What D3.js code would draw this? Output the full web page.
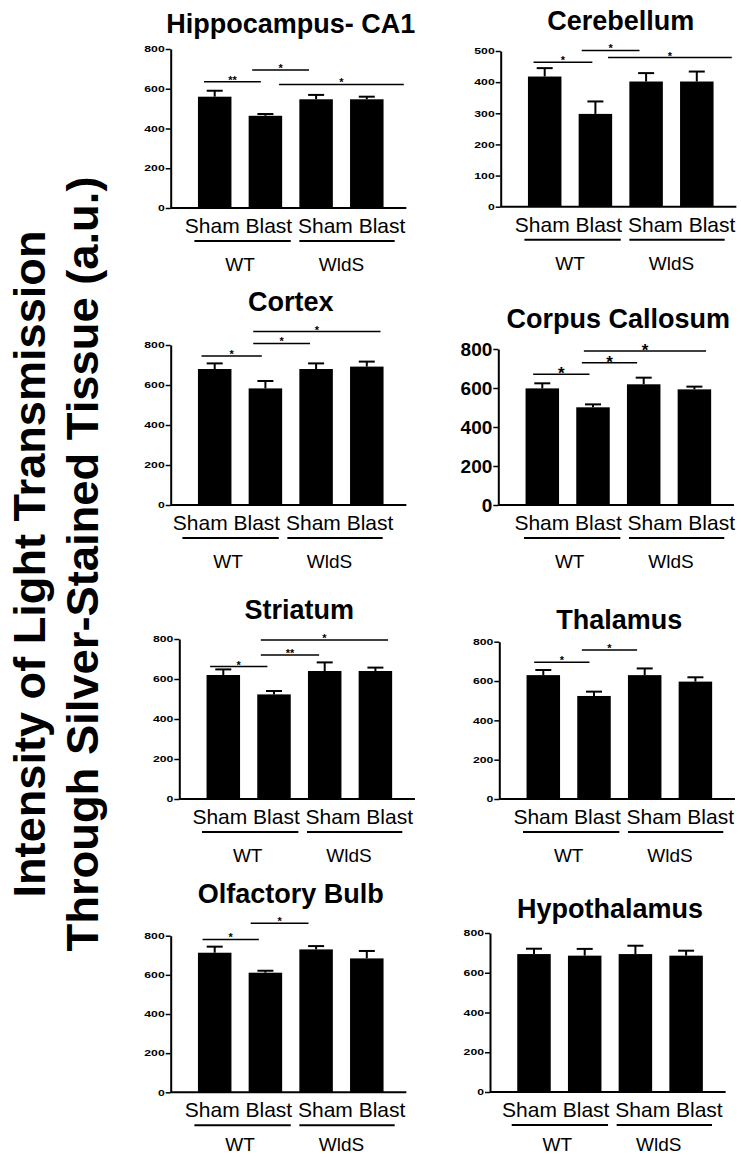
<!DOCTYPE html>
<html>
<head>
<meta charset="utf-8">
<script src="https://cdn.jsdelivr.net/npm/d3@7"></script>
<style>
  body { margin: 0; background: #fff; }
  svg text { font-family: "Liberation Sans", Arial, sans-serif; fill: #000; }
</style>
</head>
<body>
<svg id="chart" width="741" height="1157"></svg>
<script>
// data
const groups = ["Sham", "Blast", "Sham", "Blast"];
const genotypes = ["WT", "WldS"];
const regions = ["Hippocampus- CA1", "Cerebellum", "Cortex", "Corpus Callosum",
                 "Striatum", "Thalamus", "Olfactory Bulb", "Hypothalamus"];
const means = [
    [560, 464, 547, 547],
    [418, 298, 402, 402],
    [680, 583, 680, 692],
    [598, 501, 619, 593],
    [620, 523, 640, 640],
    [630, 524, 630, 597],
    [713, 611, 730, 684],
    [694, 686, 694, 686]
];
const sem = [
    [30, 9, 22, 13],
    [27, 40, 27, 32],
    [28, 37, 28, 25],
    [26, 15, 34, 14],
    [28, 17, 43, 17],
    [26, 22, 34, 22],
    [31, 10, 17, 38],
    [27, 34, 42, 25]
];
const yMax = [800, 500, 800, 800, 800, 800, 800, 800];
const tickStep = [200, 100, 200, 200, 200, 200, 200, 200];
// significance brackets: [from bar, to bar, height (a.u.), label]
const signif = [
    [[-0.21, 0.91, 635, "**"], [0.74, 1.86, 694, "*"], [1.27, 3.73, 622, "*"]],
    [[-0.22, 0.94, 464, "*"], [0.73, 1.87, 502, "*"], [1.25, 3.69, 479, "*"]],
    [[-0.26, 0.93, 745, "*"], [0.76, 1.88, 808, "*"], [0.76, 3.27, 867, "*"]],
    [[-0.18, 0.93, 670, "*"], [0.78, 1.87, 730, "*"], [0.82, 3.23, 790, "*"]],
    [[-0.26, 0.87, 662, "*"], [0.74, 1.89, 720, "**"], [0.74, 3.25, 795, "*"]],
    [[-0.18, 0.91, 695, "*"], [0.76, 1.85, 758, "*"]],
    [[-0.24, 0.87, 781, "*"], [0.71, 1.85, 863, "*"]],
    []
];

// panel placement
const layout = [
    { axisX: 170.7, yTop: 49,    y0: 208,    titleY: 33,  big: false, dx: 0 },
    { axisX: 500.7, yTop: 51,    y0: 206.7,  titleY: 30,  big: false, dx: 0 },
    { axisX: 170.7, yTop: 345,   y0: 505,    titleY: 311, big: false, dx: -12 },
    { axisX: 498.3, yTop: 349,   y0: 505,    titleY: 328, big: true,  dx: 2 },
    { axisX: 179.3, yTop: 639,   y0: 799,    titleY: 619, big: false, dx: -1 },
    { axisX: 499.3, yTop: 641.7, y0: 799,    titleY: 629, big: false, dx: 0 },
    { axisX: 170.7, yTop: 935.7, y0: 1092.3, titleY: 903, big: false, dx: 0 },
    { axisX: 490,   yTop: 933,   y0: 1092,   titleY: 918, big: false, dx: -2 }
];

const svg = d3.select("#chart");
const step = 50.7, barW = 33.5, capW = 16;

regions.forEach((name, p) => {
    const L = layout[p];
    const y = d3.scaleLinear().domain([0, yMax[p]]).range([L.y0, L.yTop]);
    const x = d3.scaleLinear().domain([0, 3])
        .range([L.axisX + 44, L.axisX + 44 + 3 * step]);
    const g = svg.append("g");

    // bars
    g.selectAll(".bar")
        .data(means[p])
        .enter().append("rect")
        .attr("class", "bar")
        .attr("x", (d, i) => x(i) - barW / 2)
        .attr("width", barW)
        .attr("y", d => y(d))
        .attr("height", d => y(0) - y(d))
        .attr("fill", "#000");

    // error bars (upper only)
    const err = g.selectAll(".err")
        .data(means[p].map((m, i) => ({ m, e: sem[p][i], i })))
        .enter().append("g")
        .attr("class", "err")
        .attr("stroke", "#000")
        .attr("stroke-width", 2);
    err.append("line")
        .attr("x1", d => x(d.i)).attr("x2", d => x(d.i))
        .attr("y1", d => y(d.m)).attr("y2", d => y(d.m + d.e));
    err.append("line")
        .attr("x1", d => x(d.i) - capW / 2).attr("x2", d => x(d.i) + capW / 2)
        .attr("y1", d => y(d.m + d.e)).attr("y2", d => y(d.m + d.e));

    // y axis
    const ax = g.append("g")
        .attr("transform", `translate(${L.axisX},0)`)
        .call(d3.axisLeft(y)
            .tickValues(d3.range(0, yMax[p] + 1, tickStep[p]))
            .tickSize(5).tickSizeOuter(0).tickPadding(1));
    ax.select(".domain").attr("stroke-width", 2);
    ax.selectAll(".tick line").attr("stroke-width", 1.5);
    ax.selectAll(".tick text")
        .attr("fill", "#000")
        .style("font-weight", "bold")
        .style("font-size", L.big ? "19px" : "8.5px");
    if (!L.big) {
        ax.selectAll(".tick text")
            .attr("textLength", d => String(d).length * 6.8)
            .attr("lengthAdjust", "spacingAndGlyphs");
    }

    // x baseline
    g.append("line")
        .attr("x1", L.axisX).attr("x2", x(3.78))
        .attr("y1", y(0)).attr("y2", y(0))
        .attr("stroke", "#000").attr("stroke-width", 2);

    // title
    g.append("text")
        .attr("x", x(1.5)).attr("y", L.titleY)
        .attr("text-anchor", "middle")
        .style("font-weight", "bold")
        .style("font-size", "27px")
        .text(name);

    // treatment labels, written as one line under the four bars
    g.append("text")
        .attr("class", "cat")
        .attr("x", x(-0.59) + L.dx)
        .attr("y", y(0) + 25)
        .style("font-size", "21px")
        .text(groups.join(" "));

    const spans = [[-0.4, 1.5], [1.67, 3.55]];
    g.selectAll(".under")
        .data(spans)
        .enter().append("line")
        .attr("class", "under")
        .attr("x1", d => x(d[0]) + L.dx).attr("x2", d => x(d[1]) + L.dx)
        .attr("y1", y(0) + 33).attr("y2", y(0) + 33)
        .attr("stroke", "#000").attr("stroke-width", 2);

    g.selectAll(".geno")
        .data(genotypes)
        .enter().append("text")
        .attr("class", "geno")
        .attr("x", (d, i) => x(0.5 + 2 * i) + L.dx)
        .attr("y", Math.min(y(0) + 63, 1151))
        .attr("text-anchor", "middle")
        .style("font-size", "19px")
        .text(d => d);

    // significance brackets
    const sig = g.selectAll(".sig")
        .data(signif[p])
        .enter().append("g")
        .attr("class", "sig");
    sig.append("line")
        .attr("x1", d => x(d[0])).attr("x2", d => x(d[1]))
        .attr("y1", d => y(d[2])).attr("y2", d => y(d[2]))
        .attr("stroke", "#000").attr("stroke-width", 1.5);
    sig.append("text")
        .attr("x", d => x((d[0] + d[1]) / 2))
        .attr("y", d => y(d[2]) + (L.big ? 5 : 2))
        .attr("text-anchor", "middle")
        .style("font-size", L.big ? "17px" : "11px")
        .style("font-weight", "bold")
        .text(d => d[3]);
});

// shared y-axis title
const yTitle = ["Intensity of Light Transmission", "Through Silver-Stained Tissue (a.u.)"];
const yTitleLen = [667, 775];
svg.selectAll(".ytitle")
    .data(yTitle)
    .enter().append("text")
    .attr("class", "ytitle")
    .attr("transform", (d, i) => `translate(${45 + 53 * i},564) rotate(-90)`)
    .attr("text-anchor", "middle")
    .attr("textLength", (d, i) => yTitleLen[i])
    .attr("lengthAdjust", "spacingAndGlyphs")
    .style("font-weight", "bold")
    .style("font-size", "45px")
    .text(d => d);
</script>
</body>
</html>
